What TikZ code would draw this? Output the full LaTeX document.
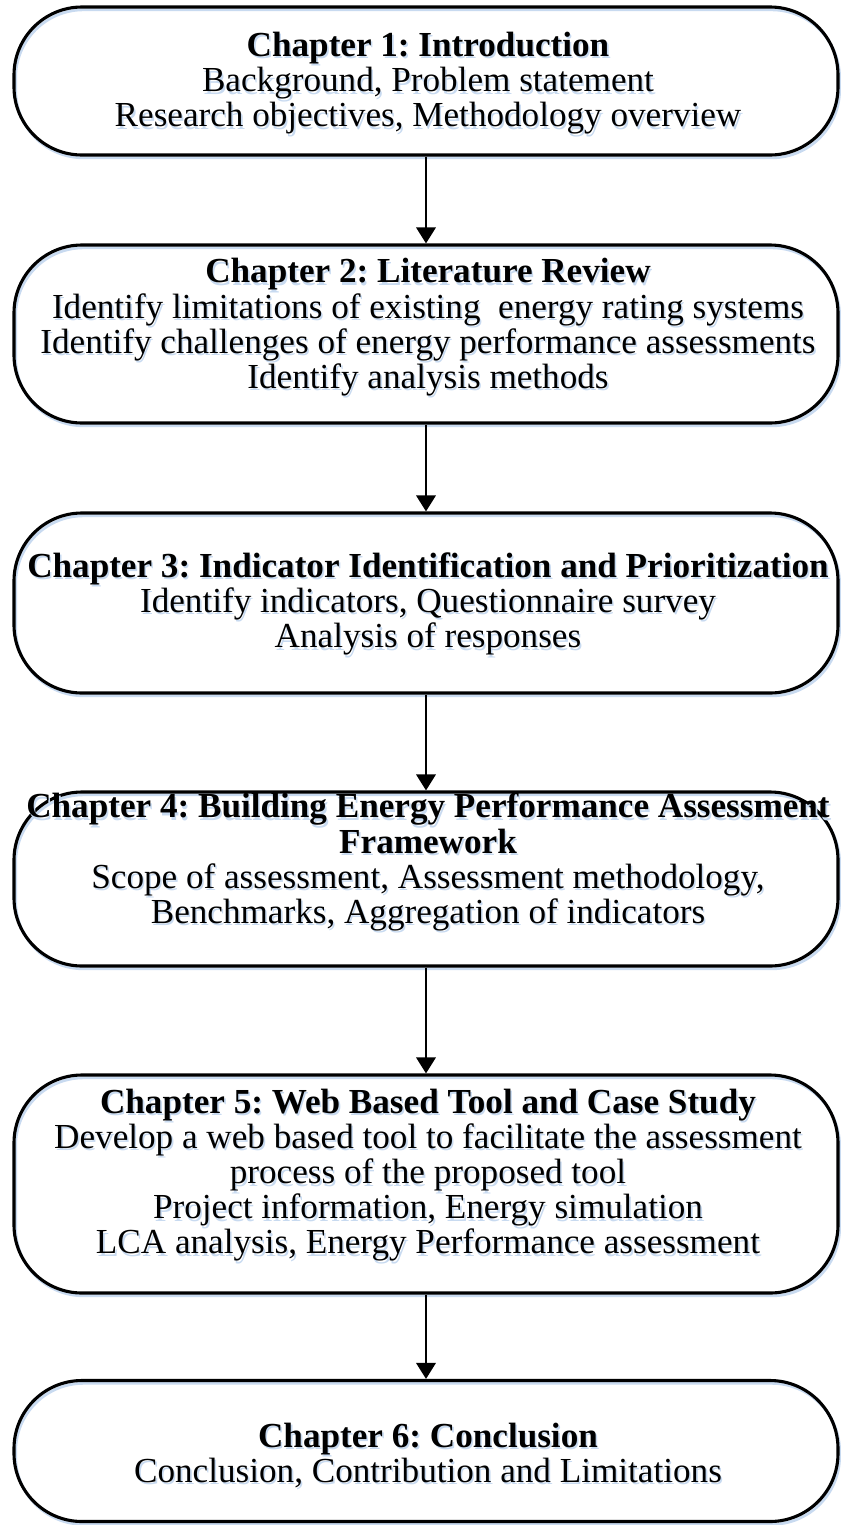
\documentclass[tikz,border=0pt]{standalone}
\usepackage{fontspec}
\setmainfont{Liberation Serif}
\usetikzlibrary{arrows.meta}

\definecolor{shadowblue}{RGB}{200,218,240}

\tikzset{
    chapbox/.style={draw, line width=2.2pt, rounded corners=1.7cm,
        minimum width=20.6cm, inner sep=0pt,
        preaction={draw=shadowblue, line width=2pt,
            transform canvas={shift={(0.04cm,-0.07cm)}}}},
    chaptxt/.style={align=center, font=\fontsize{25}{25}\selectfont, inner sep=0pt},
    chapsh/.style={chaptxt, text=shadowblue, xshift=0.04cm, yshift=-0.06cm},
    flow/.style={line width=2pt, -{Triangle[length=0.4cm, width=0.48cm]}}
}

\newcommand{\chaplabel}[3]{%
    \node[chapsh] (#1s) at (#2) {#3};
    \node[chaptxt] (#1) at (#2) {#3};
}

\begin{document}
\frenchspacing
\begin{tikzpicture}
    \useasboundingbox (0,0) rectangle (21,-38.125);

    % Kapitel 1
    \node[chapbox, minimum height=3.7cm] (b1) at (10.65,-2.025) {};
    \chaplabel{t1}{10.7,-2.08}{\textbf{Chapter 1: Introduction}\\
        Background, Problem statement\\
        Research objectives, Methodology overview}

    % Kapitel 2
    \node[chapbox, minimum height=4.45cm] (b2) at (10.65,-8.35) {};
    \chaplabel{t2}{10.7,-8.18}{\textbf{Chapter 2: Literature Review}\\
        Identify limitations of existing\ \ energy rating systems\\
        Identify challenges of energy performance assessments\\
        Identify analysis methods}

    % Kapitel 3
    \node[chapbox, minimum height=4.5cm] (b3) at (10.65,-15.075) {};
    \chaplabel{t3}{10.7,-15.1}{\textbf{Chapter 3: Indicator Identification and Prioritization}\\
        Identify indicators, Questionnaire survey\\
        Analysis of responses}

    % Kapitel 4
    \node[chapbox, minimum height=4.35cm] (b4) at (10.65,-21.975) {};
    \chaplabel{t4}{10.7,-21.55}{\textbf{Chapter 4: Building Energy Performance Assessment}\\
        \textbf{Framework}\\
        Scope of assessment, Assessment methodology,\\
        Benchmarks, Aggregation of indicators}

    % Kapitel 5
    \node[chapbox, minimum height=5.45cm] (b5) at (10.65,-29.6) {};
    \chaplabel{t5}{10.7,-29.38}{\textbf{Chapter 5: Web Based Tool and Case Study}\\
        Develop a web based tool to facilitate the assessment\\
        process of the proposed tool\\
        Project information, Energy simulation\\
        LCA analysis, Energy Performance assessment}

    % Kapitel 6
    \node[chapbox, minimum height=3.525cm] (b6) at (10.65,-36.275) {};
    \chaplabel{t6}{10.7,-36.38}{\textbf{Chapter 6: Conclusion}\\
        Conclusion, Contribution and Limitations}

    % Pfeile
    \draw[flow] (b1) -- (b2);
    \draw[flow] (b2) -- (b3);
    \draw[flow] (b3) -- (b4);
    \draw[flow] (b4) -- (b5);
    \draw[flow] (b5) -- (b6);
\end{tikzpicture}
\end{document}
